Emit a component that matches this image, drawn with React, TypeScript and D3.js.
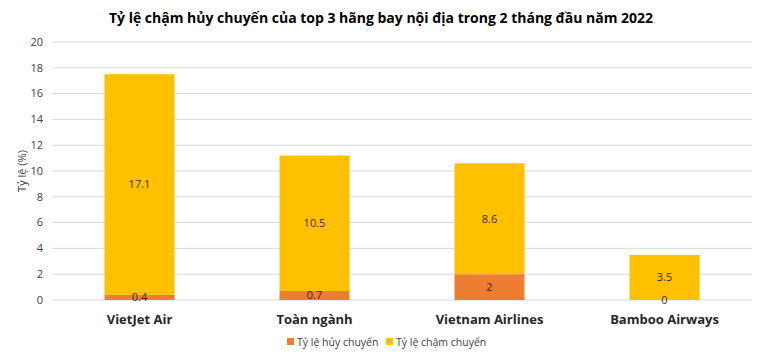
import React from "react";
import * as d3 from "d3";

const categories = ["VietJet Air", "Toàn ngành", "Vietnam Airlines", "Bamboo Airways"];
const cancelRate = [0.4, 0.7, 2, 0];
const delayRate = [17.1, 10.5, 8.6, 3.5];
const yTicks = [0, 2, 4, 6, 8, 10, 12, 14, 16, 18, 20];
const seriesNames = ["Tỷ lệ hủy chuyến", "Tỷ lệ chậm chuyến"];
const colors = ["#ED7D31", "#FFC000"];

const W = 760, H = 355;
const FONT = "'Open Sans', 'Noto Sans', sans-serif";

export default function App() {
  const x = d3.scaleBand().domain(categories).range([52, 752]).paddingInner(0.6).paddingOuter(0.3);
  const y = d3.scaleLinear().domain([0, 20]).range([300, 42]);
  const rows = categories.map((c, i) => ({ c, cancel: cancelRate[i], delay: delayRate[i] }));
  const stack = d3.stack<any>().keys(["cancel", "delay"])(rows as any);

  return (
    <svg width={W} height={H} style={{ position: "absolute", left: 0, top: 0, background: "#fff" }} fontFamily={FONT}>
      <rect width={W} height={H} fill="#fff" />
      <text x={381} y={23} textAnchor="middle" fontSize={14} fontWeight="bold" fill="#000">
        Tỷ lệ chậm hủy chuyến của top 3 hãng bay nội địa trong 2 tháng đầu năm 2022
      </text>
      {yTicks.map((t) => (
        <g key={t}>
          <line x1={52} x2={752} y1={y(t)} y2={y(t)} stroke="#d9d9d9" strokeWidth={1} />
          <text x={43} y={y(t)} dy="0.35em" textAnchor="end" fontSize={11} fill="#404040">{t}</text>
        </g>
      ))}
      <text transform={`translate(22,${y(10)}) rotate(-90)`} textAnchor="middle" dy="0.35em" fontSize={11} fill="#404040">Tỷ lệ (%)</text>
      {stack.map((s, si) => (
        <g key={si}>
          {s.map((d, i) => (
            <rect key={i} x={x(categories[i])} width={x.bandwidth()} y={y(d[1])} height={Math.max(0, y(d[0]) - y(d[1]))} fill={colors[si]} />
          ))}
        </g>
      ))}
      {stack.map((s, si) => (
        <g key={"l" + si}>
          {s.map((d, i) => (
            <text key={i} x={(x(categories[i]) as number) + x.bandwidth() / 2} y={y((d[0] + d[1]) / 2)} dy="0.35em" textAnchor="middle" fontSize={11} fill="#3f2a14">
              {si === 0 ? cancelRate[i] : delayRate[i]}
            </text>
          ))}
        </g>
      ))}
      {categories.map((c) => (
        <text key={c} x={(x(c) as number) + x.bandwidth() / 2} y={319} dy="0.35em" textAnchor="middle" fontSize={13} fontWeight="bold" fill="#262626">{c}</text>
      ))}
      {seriesNames.map((n, i) => (
        <g key={n} transform={`translate(${i === 0 ? 287 : 386},342)`}>
          <rect x={0} y={-4} width={7} height={7} fill={colors[i]} />
          <text x={10} y={0} dy="0.35em" fontSize={10.5} fill="#404040">{n}</text>
        </g>
      ))}
    </svg>
  );
}
